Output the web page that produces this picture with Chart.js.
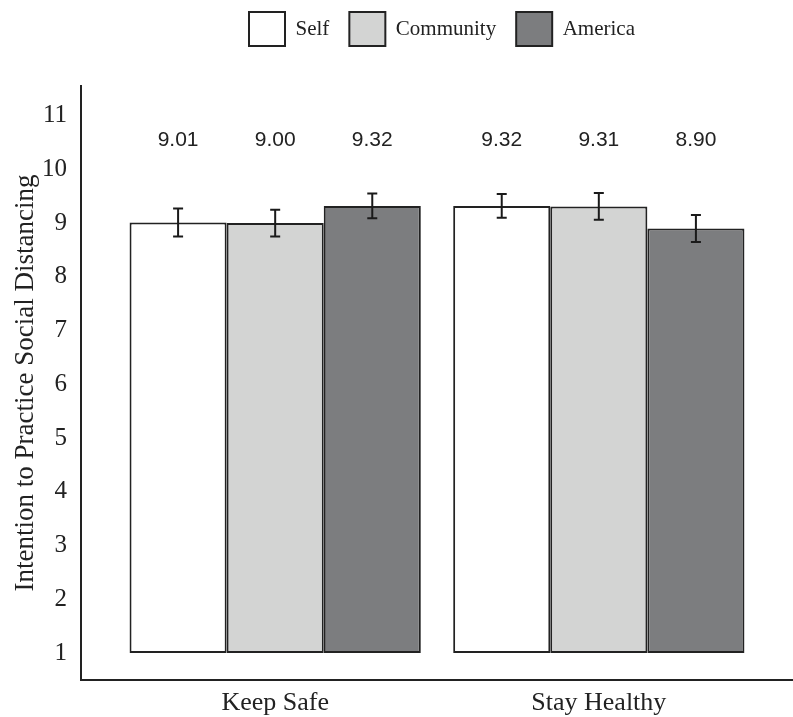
<!DOCTYPE html>
<html>
<head>
<meta charset="utf-8">
<script src="https://cdn.jsdelivr.net/npm/chart.js@4.4.1/dist/chart.umd.min.js"></script>
<style>
  body { margin: 0; background: #fff; }
  #wrap { width: 793px; height: 717px; }
</style>
</head>
<body>
<div id="wrap"><canvas id="intentChart" width="793" height="717"></canvas></div>
<script>
// values
var categories = ["Keep Safe", "Stay Healthy"];
var seriesNames = ["Self", "Community", "America"];
var selfMeans = [9.01, 9.32];
var communityMeans = [9.00, 9.31];
var americaMeans = [9.32, 8.90];
var selfErr = [0.26, 0.22];
var communityErr = [0.25, 0.25];
var americaErr = [0.23, 0.25];
var yTicks = [1, 2, 3, 4, 5, 6, 7, 8, 9, 10, 11];
var barBase = 1;
var labelLevel = 10.55;

var fills = ["#ffffff", "#d3d4d3", "#7c7d7f"];
var means = [selfMeans, communityMeans, americaMeans];
var errs = [selfErr, communityErr, americaErr];

function makeData(vals) {
    return vals.map(function(v, i) {
        return { x: i, y: [barBase, v] };
    });
}

var datasets = means.map(function(vals, k) {
    return {
        label: seriesNames[k],
        data: makeData(vals),
        errors: errs[k],
        means: vals,
        backgroundColor: fills[k],
        borderColor: "#222",
        borderWidth: 2,
        borderSkipped: false,
        categoryPercentage: 0.9,
        barPercentage: 1.0
    };
});

// error bars + value labels drawn through the scales
var barExtras = {
    id: "barExtras",
    afterDatasetsDraw: function(chart) {
        var ctx = chart.ctx;
        var y = chart.scales.y;
        ctx.save();
        chart.data.datasets.forEach(function(ds, k) {
            var meta = chart.getDatasetMeta(k);
            meta.data.forEach(function(bar, j) {
                var m = ds.means[j];
                var e = ds.errors[j];
                var top = y.getPixelForValue(m + e);
                var bot = y.getPixelForValue(m - e);
                ctx.strokeStyle = "#1a1a1a";
                ctx.lineWidth = 2;
                ctx.beginPath();
                ctx.moveTo(bar.x, top);
                ctx.lineTo(bar.x, bot);
                ctx.moveTo(bar.x - 5, top);
                ctx.lineTo(bar.x + 5, top);
                ctx.moveTo(bar.x - 5, bot);
                ctx.lineTo(bar.x + 5, bot);
                ctx.stroke();

                ctx.fillStyle = "#222";
                ctx.font = "21px 'Liberation Sans', Arial, sans-serif";
                ctx.textAlign = "center";
                ctx.textBaseline = "middle";
                ctx.fillText(m.toFixed(2), bar.x, y.getPixelForValue(labelLevel));
            });
        });
        ctx.restore();
    }
};

// legend: extra room below it, and centred over the plot area instead of the canvas
var legendTweak = {
    id: "legendTweak",
    beforeInit: function(chart) {
        var lg = chart.legend;
        var fit = lg.fit;
        var draw = lg.draw;
        lg.fit = function() {
            fit.bind(lg)();
            this.height += 30;
        };
        lg.draw = function() {
            var shift = chart.chartArea ? chart.chartArea.left / 2 + 2 : 0;
            var l = this.left, r = this.right;
            this.left = l + shift;
            this.right = r + shift;
            draw.apply(this, arguments);
            this.left = l;
            this.right = r;
        };
    }
};

var serif = "'Liberation Serif', 'Times New Roman', serif";

new Chart(document.getElementById("intentChart"), {
    type: "bar",
    data: { datasets: datasets },
    plugins: [barExtras, legendTweak],
    options: {
        responsive: false,
        animation: false,
        layout: { padding: { left: 6, right: 0, top: -8, bottom: 0 } },
        plugins: {
            legend: {
                position: "top",
                labels: {
                    boxWidth: 36,
                    boxHeight: 34,
                    padding: 20,
                    color: "#222",
                    font: { family: serif, size: 21 }
                }
            },
            tooltip: { enabled: false }
        },
        scales: {
            x: {
                type: "linear",
                min: -0.6,
                max: 1.6,
                offset: false,
                grid: { display: false, drawTicks: false },
                border: { display: true, color: "#222", width: 2 },
                afterBuildTicks: function(scale) {
                    scale.ticks = categories.map(function(c, i) { return { value: i }; });
                },
                afterFit: function(scale) { scale.height = 37; },
                ticks: {
                    color: "#222",
                    padding: 8,
                    maxRotation: 0,
                    font: { family: serif, size: 26 },
                    callback: function(v) { return categories[v]; }
                }
            },
            y: {
                min: 0.5,
                max: 11.55,
                grid: { display: false, drawTicks: false },
                border: { display: true, color: "#222", width: 2 },
                afterBuildTicks: function(scale) {
                    scale.ticks = yTicks.map(function(v) { return { value: v }; });
                },
                afterFit: function(scale) { scale.width = 75; },
                ticks: {
                    color: "#222",
                    padding: 14,
                    font: { family: serif, size: 25 }
                },
                title: {
                    display: true,
                    text: "Intention to Practice Social Distancing",
                    color: "#222",
                    padding: { top: 4, bottom: 4 },
                    font: { family: serif, size: 27 }
                }
            }
        }
    }
});
</script>
</body>
</html>
